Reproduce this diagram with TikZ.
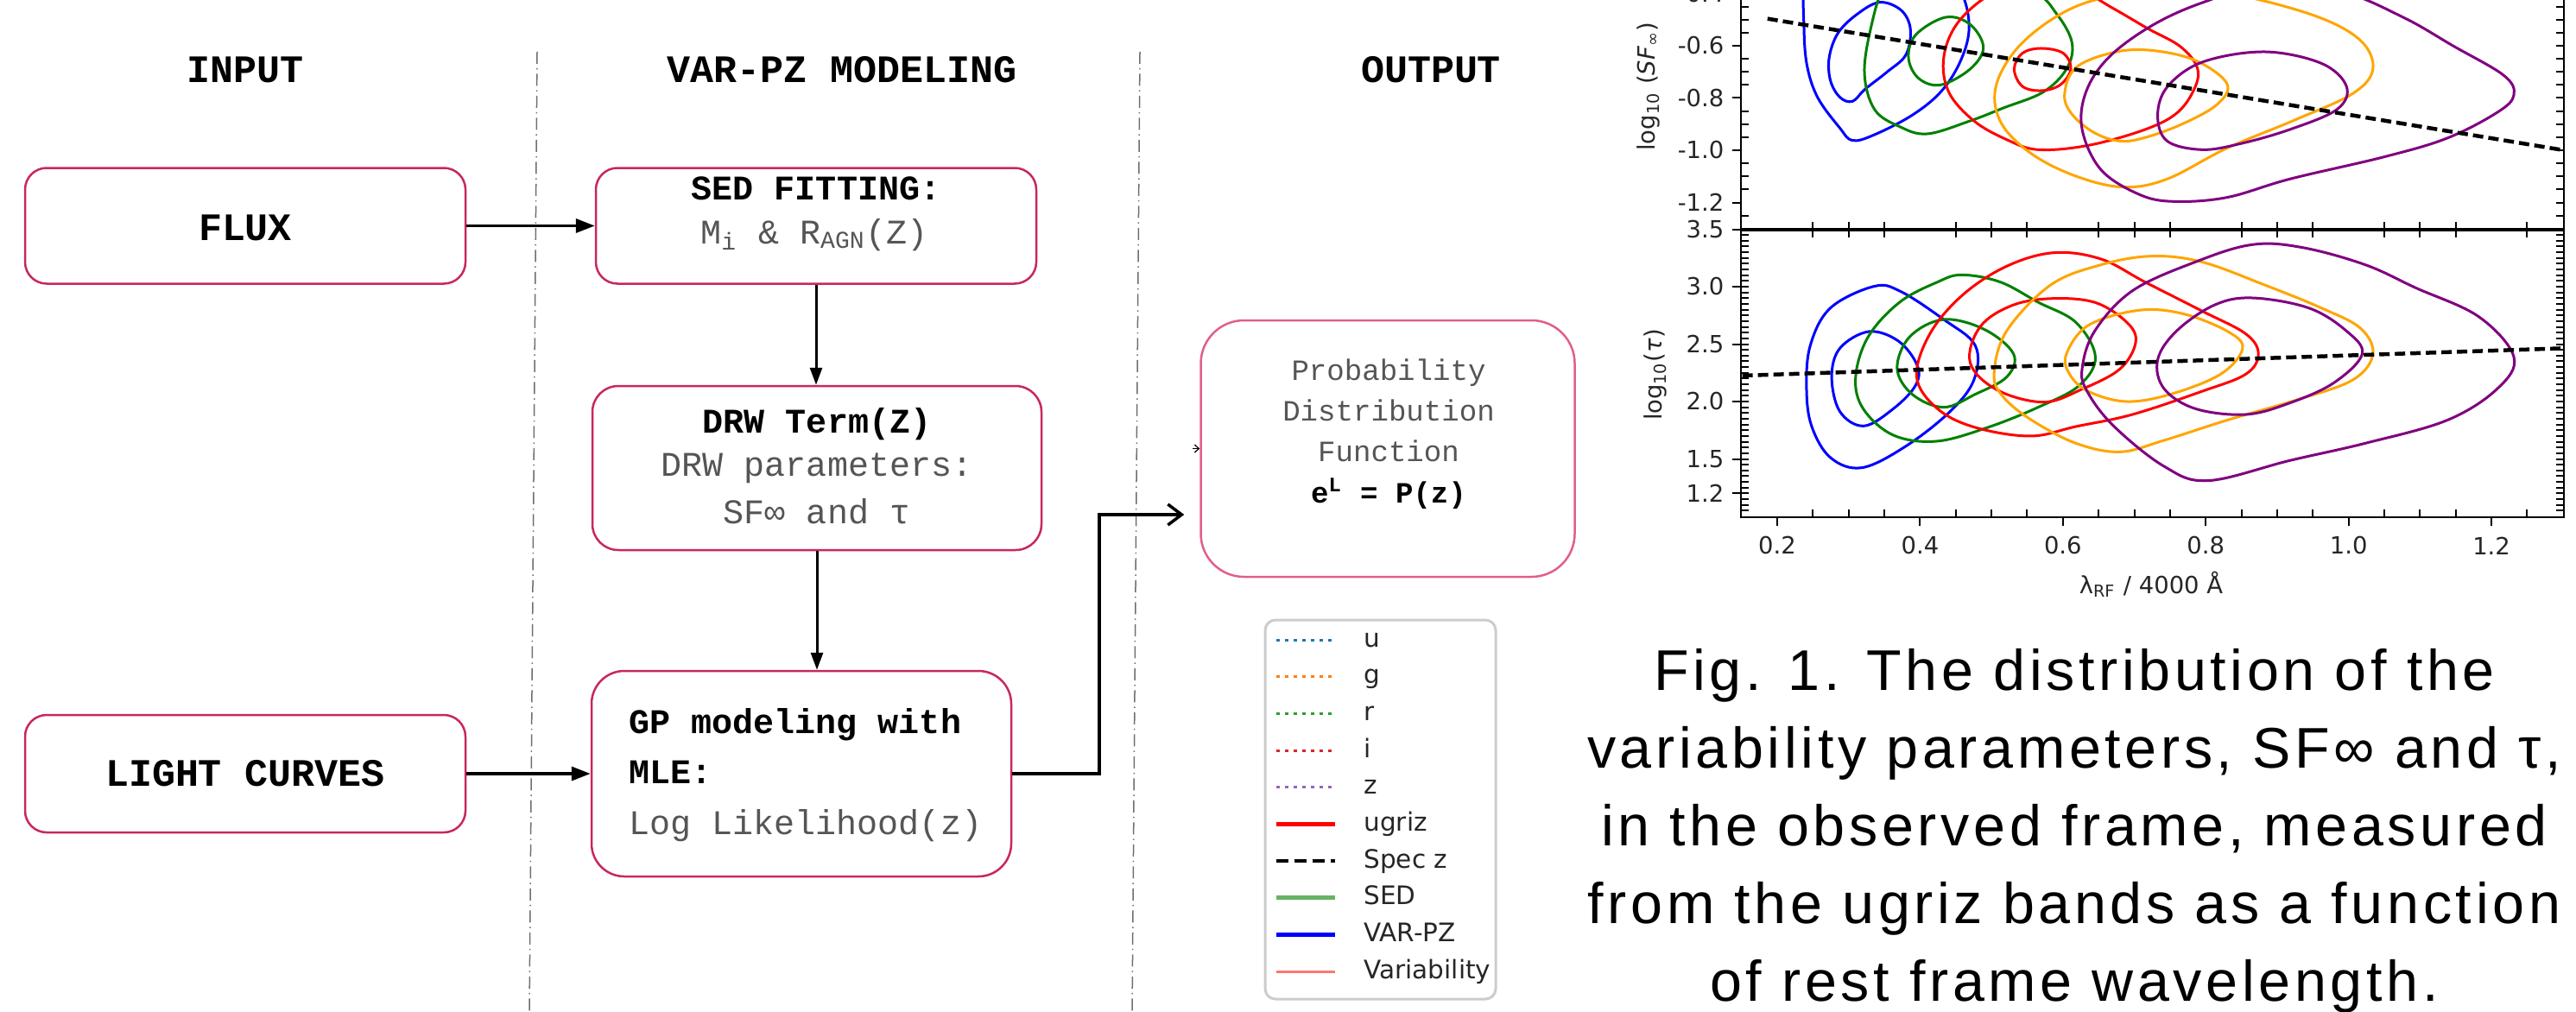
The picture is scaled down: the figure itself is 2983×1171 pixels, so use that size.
\documentclass[tikz,border=0pt]{standalone}
\usepackage{fontspec}
\setmainfont{Liberation Sans}
\newfontfamily\cour{Liberation Mono}
\newfontfamily\plotfont{DejaVu Sans}
\newfontfamily\capfont[LetterSpace=7]{Liberation Sans}
\usetikzlibrary{arrows.meta}

\definecolor{boxred}{RGB}{200,40,90}
\definecolor{pdfpink}{RGB}{225,95,135}
\definecolor{txtgray}{RGB}{85,85,85}
\definecolor{sepgray}{RGB}{110,110,110}
\definecolor{cblue}{RGB}{0,0,255}
\definecolor{cgreen}{RGB}{0,128,0}
\definecolor{cred}{RGB}{255,0,0}
\definecolor{corange}{RGB}{255,165,0}
\definecolor{cpurple}{RGB}{128,0,128}
\definecolor{tabblue}{RGB}{31,119,180}
\definecolor{taborange}{RGB}{255,127,14}
\definecolor{tabgreen}{RGB}{44,160,44}
\definecolor{tabred}{RGB}{214,39,40}
\definecolor{tabpurple}{RGB}{148,103,189}
\definecolor{sedgreen}{RGB}{100,180,100}
\definecolor{salmonred}{RGB}{250,120,115}

\newcommand\hfs{\fontsize{12.8}{14}\selectfont}
\newcommand\bxfs{\fontsize{11.4}{13}\selectfont}
\newcommand\pdffs{\fontsize{9.7}{11}\selectfont}
\newcommand\tkfs{\fontsize{7.8}{9}\selectfont}
\newcommand\lgfs{\fontsize{8.4}{10}\selectfont}
\newcommand\capfs{\fontsize{18.9}{22}\selectfont}

\begin{document}
\begin{tikzpicture}[x=0.1mm,y=-0.1mm,
  flowbox/.style={draw=boxred, line width=0.25mm, fill=white, inner sep=0pt},
  hdr/.style={font=\cour\hfs\bfseries, anchor=base},
  ttl/.style={font=\cour\bxfs\bfseries, anchor=base},
  sub/.style={font=\cour\bxfs, text=txtgray, anchor=base},
  pdft/.style={font=\cour\pdffs, text=txtgray, anchor=base},
  sepline/.style={draw=sepgray, line width=0.15mm, dash pattern=on 1.4mm off 0.5mm on 0.15mm off 0.5mm},
  flowarrow/.style={line width=0.35mm, -{Triangle[length=2.2mm,width=1.6mm]}},
  downarrow/.style={line width=0.3mm, -{Triangle[length=2mm,width=1.4mm]}},
  contour/.style={line width=0.3mm, smooth cycle, tension=0.6},
  specline/.style={black, line width=0.45mm, dash pattern=on 1.2mm off 0.6mm},
  axl/.style={line width=0.28mm, black},
  tck/.style={line width=0.2mm, black},
  tlab/.style={font=\plotfont\tkfs, text=black!85},
  leg/.style={font=\plotfont\lgfs, anchor=base west, text=black!85},
  captext/.style={font=\capfont\capfs, anchor=base},
  lgdot/.style={line width=0.3mm, dash pattern=on 0.4mm off 0.6mm},
  lg0/.style={lgdot, draw=tabblue},
  lg1/.style={lgdot, draw=taborange},
  lg2/.style={lgdot, draw=tabgreen},
  lg3/.style={lgdot, draw=tabred},
  lg4/.style={lgdot, draw=tabpurple},
  lg5/.style={draw=red, line width=0.55mm},
  lg6/.style={draw=black, line width=0.35mm, dash pattern=on 1.4mm off 0.7mm},
  lg7/.style={draw=sedgreen, line width=0.5mm},
  lg8/.style={draw=blue, line width=0.5mm},
  lg9/.style={draw=salmonred, line width=0.35mm}
]
\useasboundingbox (0,0) rectangle (2983,1171);

% ---------- column separators ----------
\draw[sepline] (622,60) -- (613,1171);
\draw[sepline] (1320,60) -- (1311,1171);

% ---------- column headers ----------
\node[hdr] (hin) at (284,96) {INPUT};
\node[hdr] (hmod) at (975,96) {VAR-PZ MODELING};
\node[hdr] (hout) at (1657,96) {OUTPUT};

% ---------- flow boxes ----------
\node[flowbox, rounded corners=2.5mm, minimum width=51mm, minimum height=13.4mm] (flux) at (284,261.5) {};
\node[ttl, font=\cour\hfs\bfseries] (fluxT) at (284,278) {FLUX};

\node[flowbox, rounded corners=2.5mm, minimum width=51mm, minimum height=13.4mm] (sed) at (945,261.5) {};
\node[ttl] (sedT) at (945,232) {SED FITTING:};
\node[sub] (sedS) at (943,282) {M\textsubscript{i} \& R\textsubscript{AGN}(Z)};

\node[flowbox, rounded corners=3mm, minimum width=52mm, minimum height=19mm] (drw) at (946,542) {};
\node[ttl] (drwT) at (946,501) {DRW Term(Z)};
\node[sub] (drwS) at (946,551) {DRW parameters:};
\node[sub] (drwV) at (946,606) {SF∞ and τ};

\node[flowbox, rounded corners=3.8mm, minimum width=48.6mm, minimum height=23.8mm] (gp) at (928,896) {};
\node[ttl, anchor=base west] (gpT) at (716,849) {GP modeling with};
\node[ttl, anchor=base west] (gpM) at (716,907) {MLE:};
\node[sub, anchor=base west] (gpS) at (716,966) {Log Likelihood(z)};

\node[flowbox, rounded corners=2.5mm, minimum width=51mm, minimum height=13.6mm] (lc) at (284,896) {};
\node[ttl, font=\cour\hfs\bfseries] (lcT) at (284,910) {LIGHT CURVES};

\node[flowbox, draw=pdfpink, rounded corners=5mm, minimum width=43.3mm, minimum height=29.7mm] (pdf) at (1607,519.5) {};
\node[pdft] (pdf1) at (1608,440) {Probability};
\node[pdft] (pdf2) at (1608,487) {Distribution};
\node[pdft] (pdf3) at (1608,534) {Function};
\node[pdft, font=\cour\pdffs\bfseries, text=black] (pdf4) at (1608,582) {e\textsuperscript{L} = P(z)};

% ---------- connectors ----------
\draw[flowarrow] (flux.east) -- (sed.west);
\draw[flowarrow] (lc.east) -- (lc.east -| gp.west);
\draw[downarrow] (sed.south) -- (sed.south |- drw.north);
\draw[downarrow] (drw.south) -- (drw.south |- gp.north);
\coordinate (bend) at (1273,596);
\draw[line width=0.35mm, -{Straight Barb[length=1.6mm,width=2.4mm]}] (gp.east) -| (bend) -- ([xshift=-1.8mm]bend -| pdf.west);
\coordinate (stub) at (1381,519.5);
\draw[line width=0.12mm, -{Straight Barb[length=0.5mm,width=0.9mm]}] (stub) -- (pdf.west);

% ---------- legend ----------
\draw[draw=black!20, line width=0.3mm, rounded corners=1.2mm, fill=white] (1465,718) rectangle (1732,1157);
\foreach \i/\lab in {0/u, 1/g, 2/r, 3/i, 4/z, 5/ugriz, 6/Spec z, 7/SED, 8/VAR-PZ, 9/Variability} {
  \draw[lg\i] (1478,{741+42.7*\i}) -- (1546,{741+42.7*\i});
  \node[leg] (leg\i) at (1567,{749+42.7*\i}) {\lab};
}

% ---------- plot: contours, upper panel ----------
\begin{scope}
  \clip (2016,-30) rectangle (2969,266);
  \begin{scope}[shift={(1850,0)}, xscale=0.7287, yscale=0.3333]
    \draw[cblue, contour] plot coordinates {(330,-60) (328,100) (333,230) (350,340) (385,445) (405,488) (440,468) (500,400) (545,320) (575,220) (590,110) (583,0) (560,-70) (450,-110) (360,-110)};
    \draw[cblue, contour] plot coordinates {(448,8) (482,35) (497,100) (490,190) (460,250) (425,310) (405,352) (385,338) (370,280) (368,200) (382,115) (412,50)};
    \draw[cgreen, contour] plot coordinates {(455,-40) (436,80) (424,250) (440,380) (480,440) (524,465) (592,420) (645,375) (708,320) (745,240) (754,150) (730,50) (690,-30) (580,-80) (490,-80)};
    \draw[cgreen, contour] plot coordinates {(553,60) (592,85) (613,165) (592,240) (545,295) (510,272) (494,200) (506,120)};
    \draw[cred, contour] plot coordinates {(625,-20) (572,80) (550,200) (558,320) (598,420) (650,485) (700,520) (780,505) (870,450) (922,390) (950,300) (952,230) (925,160) (875,100) (820,30) (760,-40) (690,-60)};
    \draw[cred, contour] plot coordinates {(705,168) (740,185) (752,240) (735,295) (705,315) (675,300) (662,240) (675,185)};
    \draw[corange, contour] plot coordinates {(790,0) (720,70) (662,180) (632,310) (642,430) (690,535) (760,612) (835,650) (905,622) (1000,515) (1110,415) (1200,325) (1232,240) (1212,140) (1140,55) (1010,-20) (900,-40)};
    \draw[corange, contour] plot coordinates {(742,330) (760,235) (820,182) (880,175) (950,210) (1000,290) (985,362) (930,430) (870,478) (830,490) (790,462) (755,400)};
    \draw[cpurple, contour] plot coordinates {(776,320) (770,450) (800,590) (860,675) (915,700) (1000,686) (1100,622) (1250,545) (1350,480) (1430,390) (1456,330) (1440,262) (1360,160) (1280,60) (1180,-30) (1060,-50) (960,10) (880,90) (812,200)};
    \draw[cpurple, contour] plot coordinates {(890,400) (906,300) (962,215) (1060,180) (1150,220) (1190,300) (1175,380) (1100,450) (1020,500) (960,520) (905,490)};
    \draw[specline] (270,65) -- (1530,520);
  \end{scope}
\end{scope}

% ---------- plot: contours, lower panel ----------
\begin{scope}
  \clip (2016,266) rectangle (2969,599);
  \begin{scope}[shift={(1850,300)}, xscale=0.7287, yscale=0.3333]
    \draw[cblue, contour] plot coordinates {(332,450) (338,300) (370,170) (439,95) (481,112) (550,210) (600,300) (598,420) (560,530) (490,650) (420,725) (370,690) (340,580)};
    \draw[cblue, contour] plot coordinates {(372,410) (385,310) (431,252) (478,285) (508,370) (505,440) (470,520) (423,580) (385,530)};
    \draw[cgreen, contour] plot coordinates {(410,410) (430,270) (480,150) (540,80) (579,55) (640,80) (700,150) (760,220) (791,340) (765,440) (700,515) (620,585) (539,633) (470,612) (422,520)};
    \draw[cgreen, contour] plot coordinates {(476,380) (496,270) (550,210) (615,245) (661,330) (650,410) (600,470) (550,515) (500,470)};
    \draw[cred, contour] plot coordinates {(507,410) (528,260) (580,125) (650,25) (725,-22) (800,0) (870,80) (960,180) (1030,260) (1050,330) (1030,400) (960,460) (850,540) (760,582) (688,615) (600,585) (540,520)};
    \draw[cred, contour] plot coordinates {(592,360) (608,235) (660,160) (725,137) (792,152) (842,222) (855,290) (830,382) (770,452) (709,497) (635,455)};
    \draw[corange, contour] plot coordinates {(630,400) (650,250) (720,90) (800,20) (880,-10) (960,10) (1060,90) (1150,170) (1212,240) (1232,330) (1200,420) (1110,490) (1000,560) (900,630) (830,670) (760,640) (690,560) (645,480)};
    \draw[corange, contour] plot coordinates {(745,330) (780,230) (860,178) (930,190) (1000,250) (1025,310) (990,400) (910,470) (840,495) (780,460) (750,400)};
    \draw[cpurple, contour] plot coordinates {(770,380) (790,250) (850,110) (950,10) (1040,-50) (1120,-40) (1220,20) (1300,100) (1400,200) (1456,340) (1430,450) (1350,560) (1220,640) (1100,700) (970,770) (900,720) (820,580) (778,460)};
    \draw[cpurple, contour] plot coordinates {(890,350) (920,250) (980,160) (1040,135) (1130,170) (1190,250) (1215,330) (1170,430) (1100,500) (1030,540) (950,520) (900,450)};
    \draw[specline] (230,405) -- (1535,310);
  \end{scope}
\end{scope}

% ---------- plot: frame and ticks ----------
\draw[axl] (2016,-30) -- (2016,599) -- (2969,599) -- (2969,-30);
\draw[axl, line width=0.35mm] (2016,266) -- (2969,266);

% y ticks, upper panel
\foreach \k in {-3,-2,-1,1,2,3,5,6,7,9,10,11,13} {
  \draw[tck] (2016,{53+15.125*\k}) -- (2025,{53+15.125*\k});
  \draw[tck] (2969,{53+15.125*\k}) -- (2960,{53+15.125*\k});
}
\foreach \v/\k in {-0.4/-4,-0.6/0,-0.8/4,-1.0/8,-1.2/12} {
  \draw[tck] (2006,{53+15.125*\k}) -- (2016,{53+15.125*\k});
  \draw[tck] (2969,{53+15.125*\k}) -- (2960,{53+15.125*\k});
  \node[tlab, anchor=east, inner sep=0pt] (ya\k) at (1997,{53+15.125*\k}) {\v};
}
% y ticks, lower panel
\foreach \k in {-9,...,39} {
  \draw[tck] (2016,{332+6.65*\k}) -- (2025,{332+6.65*\k});
  \draw[tck] (2969,{332+6.65*\k}) -- (2960,{332+6.65*\k});
}
\foreach \v/\k in {3.5/-10,3.0/0,2.5/10,2.0/20,1.5/30,1.2/36} {
  \draw[tck] (2006,{332+6.65*\k}) -- (2016,{332+6.65*\k});
  \node[tlab, anchor=east, inner sep=0pt] (yb\k) at (1997,{332+6.65*\k}) {\v};
}
% x ticks
\foreach \m in {2,3,4,6,7,8,10,11,12,14,15,16,18,19,20,22} {
  \draw[tck] ({2016.65+41.35*\m},599) -- ({2016.65+41.35*\m},590);
  \draw[tck] ({2016.65+41.35*\m},257) -- ({2016.65+41.35*\m},275);
}
\foreach \v/\m in {0.2/1,0.4/5,0.6/9,0.8/13,1.0/17,1.2/21} {
  \draw[tck] ({2016.65+41.35*\m},599) -- ({2016.65+41.35*\m},609);
  \node[tlab, inner sep=0pt] (xl\m) at ({2016.65+41.35*\m},632) {\v};
}

% axis titles
\node[tlab, rotate=90, inner sep=0pt] (ylabA) at (1909,100) {log\textsubscript{10} (\textit{SF}\textsubscript{∞})};
\node[tlab, rotate=90, inner sep=0pt] (ylabB) at (1917,434) {log\textsubscript{10}(\textit{τ})};
\node[tlab, inner sep=0pt] (xlab) at (2491,677) {λ\textsubscript{RF} / 4000 Å};

% ---------- caption ----------
\node[captext] (cap1) at (2402,799) {Fig. 1. The distribution of the};
\node[captext] (cap2) at (2402,889) {variability parameters, SF∞ and τ,};
\node[captext] (cap3) at (2402,979) {in the observed frame, measured};
\node[captext] (cap4) at (2402,1069) {from the ugriz bands as a function};
\node[captext] (cap5) at (2402,1159) {of rest frame wavelength.};
\end{tikzpicture}
\end{document}
